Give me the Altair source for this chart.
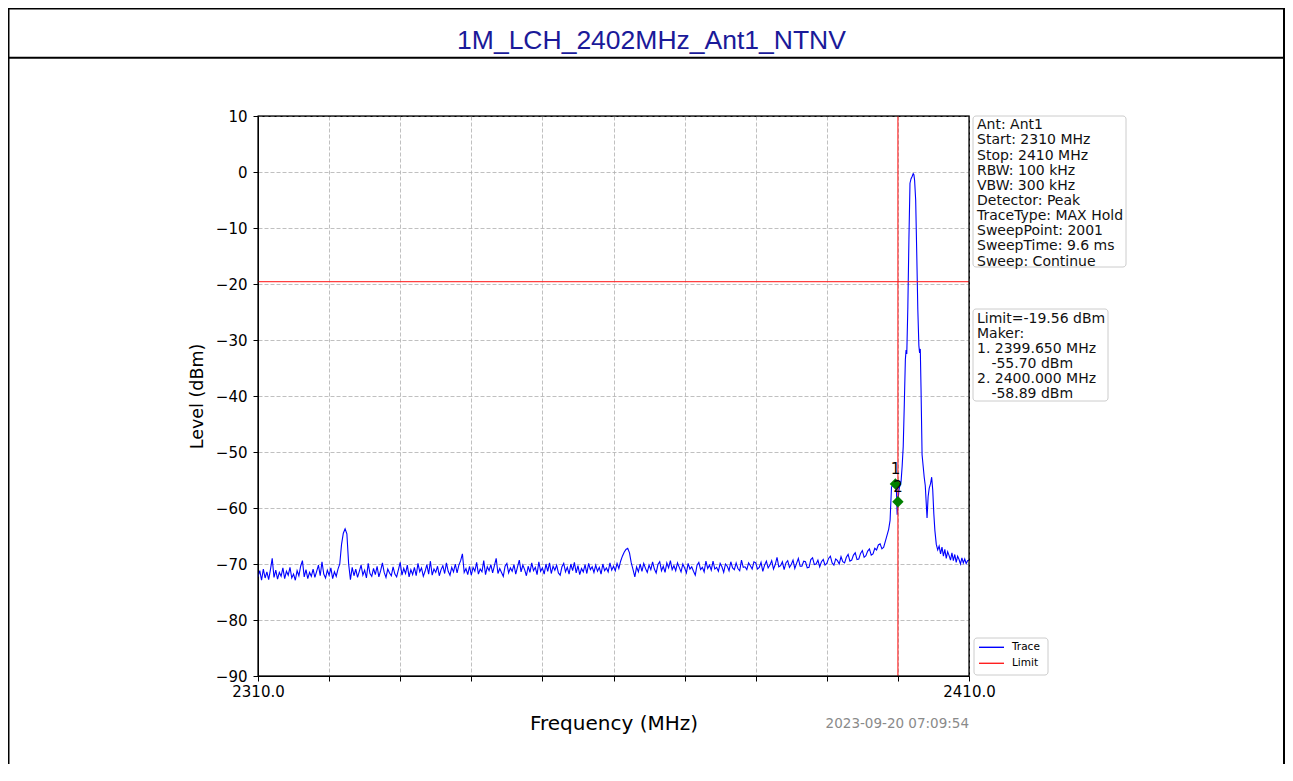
import altair as alt
import pandas as pd

# ---------------- data ----------------
# noise floor, 2310.00 .. 2397.75 MHz (0.25 MHz apart), one row = 2 MHz
noise_freq = [
    2310.0, 2310.25, 2310.5, 2310.75, 2311.0, 2311.25, 2311.5, 2311.75,
    2312.0, 2312.25, 2312.5, 2312.75, 2313.0, 2313.25, 2313.5, 2313.75,
    2314.0, 2314.25, 2314.5, 2314.75, 2315.0, 2315.25, 2315.5, 2315.75,
    2316.0, 2316.25, 2316.5, 2316.75, 2317.0, 2317.25, 2317.5, 2317.75,
    2318.0, 2318.25, 2318.5, 2318.75, 2319.0, 2319.25, 2319.5, 2319.75,
    2320.0, 2320.25, 2320.5, 2320.75, 2321.0, 2321.25, 2321.5, 2321.75,
    2322.0, 2322.25, 2322.5, 2322.75, 2323.0, 2323.25, 2323.5, 2323.75,
    2324.0, 2324.25, 2324.5, 2324.75, 2325.0, 2325.25, 2325.5, 2325.75,
    2326.0, 2326.25, 2326.5, 2326.75, 2327.0, 2327.25, 2327.5, 2327.75,
    2328.0, 2328.25, 2328.5, 2328.75, 2329.0, 2329.25, 2329.5, 2329.75,
    2330.0, 2330.25, 2330.5, 2330.75, 2331.0, 2331.25, 2331.5, 2331.75,
    2332.0, 2332.25, 2332.5, 2332.75, 2333.0, 2333.25, 2333.5, 2333.75,
    2334.0, 2334.25, 2334.5, 2334.75, 2335.0, 2335.25, 2335.5, 2335.75,
    2336.0, 2336.25, 2336.5, 2336.75, 2337.0, 2337.25, 2337.5, 2337.75,
    2338.0, 2338.25, 2338.5, 2338.75, 2339.0, 2339.25, 2339.5, 2339.75,
    2340.0, 2340.25, 2340.5, 2340.75, 2341.0, 2341.25, 2341.5, 2341.75,
    2342.0, 2342.25, 2342.5, 2342.75, 2343.0, 2343.25, 2343.5, 2343.75,
    2344.0, 2344.25, 2344.5, 2344.75, 2345.0, 2345.25, 2345.5, 2345.75,
    2346.0, 2346.25, 2346.5, 2346.75, 2347.0, 2347.25, 2347.5, 2347.75,
    2348.0, 2348.25, 2348.5, 2348.75, 2349.0, 2349.25, 2349.5, 2349.75,
    2350.0, 2350.25, 2350.5, 2350.75, 2351.0, 2351.25, 2351.5, 2351.75,
    2352.0, 2352.25, 2352.5, 2352.75, 2353.0, 2353.25, 2353.5, 2353.75,
    2354.0, 2354.25, 2354.5, 2354.75, 2355.0, 2355.25, 2355.5, 2355.75,
    2356.0, 2356.25, 2356.5, 2356.75, 2357.0, 2357.25, 2357.5, 2357.75,
    2358.0, 2358.25, 2358.5, 2358.75, 2359.0, 2359.25, 2359.5, 2359.75,
    2360.0, 2360.25, 2360.5, 2360.75, 2361.0, 2361.25, 2361.5, 2361.75,
    2362.0, 2362.25, 2362.5, 2362.75, 2363.0, 2363.25, 2363.5, 2363.75,
    2364.0, 2364.25, 2364.5, 2364.75, 2365.0, 2365.25, 2365.5, 2365.75,
    2366.0, 2366.25, 2366.5, 2366.75, 2367.0, 2367.25, 2367.5, 2367.75,
    2368.0, 2368.25, 2368.5, 2368.75, 2369.0, 2369.25, 2369.5, 2369.75,
    2370.0, 2370.25, 2370.5, 2370.75, 2371.0, 2371.25, 2371.5, 2371.75,
    2372.0, 2372.25, 2372.5, 2372.75, 2373.0, 2373.25, 2373.5, 2373.75,
    2374.0, 2374.25, 2374.5, 2374.75, 2375.0, 2375.25, 2375.5, 2375.75,
    2376.0, 2376.25, 2376.5, 2376.75, 2377.0, 2377.25, 2377.5, 2377.75,
    2378.0, 2378.25, 2378.5, 2378.75, 2379.0, 2379.25, 2379.5, 2379.75,
    2380.0, 2380.25, 2380.5, 2380.75, 2381.0, 2381.25, 2381.5, 2381.75,
    2382.0, 2382.25, 2382.5, 2382.75, 2383.0, 2383.25, 2383.5, 2383.75,
    2384.0, 2384.25, 2384.5, 2384.75, 2385.0, 2385.25, 2385.5, 2385.75,
    2386.0, 2386.25, 2386.5, 2386.75, 2387.0, 2387.25, 2387.5, 2387.75,
    2388.0, 2388.25, 2388.5, 2388.75, 2389.0, 2389.25, 2389.5, 2389.75,
    2390.0, 2390.25, 2390.5, 2390.75, 2391.0, 2391.25, 2391.5, 2391.75,
    2392.0, 2392.25, 2392.5, 2392.75, 2393.0, 2393.25, 2393.5, 2393.75,
    2394.0, 2394.25, 2394.5, 2394.75, 2395.0, 2395.25, 2395.5, 2395.75,
    2396.0, 2396.25, 2396.5, 2396.75, 2397.0, 2397.25, 2397.5, 2397.75,
]
noise_level = [
    -72.3, -71.2, -72.9, -70.9, -72.5, -71.4, -72.8, -71.0,
    -69.0, -72.4, -71.1, -72.7, -71.5, -72.2, -70.7, -72.6,
    -71.3, -72.0, -70.6, -72.5, -71.8, -72.9, -71.2, -72.1,
    -70.4, -69.4, -72.3, -71.0, -72.6, -71.5, -72.2, -70.9,
    -72.4, -71.3, -70.2, -72.1, -69.6, -71.8, -72.5, -71.1,
    -72.0, -70.7, -72.6, -71.4, -72.2, -70.9, -70.0, -66.5,
    -64.5, -63.7, -64.6, -70.0, -72.8, -70.6, -72.1, -70.9,
    -72.4, -71.3, -70.2, -72.0, -71.1, -72.5, -69.9, -71.7,
    -72.2, -70.8, -71.9, -70.4, -72.3, -71.2, -69.8, -71.5,
    -72.4, -70.9, -71.6, -72.1, -70.5, -71.8, -72.3, -71.0,
    -69.7, -72.0, -70.8, -71.7, -70.2, -72.3, -71.0, -71.9,
    -70.6, -72.1, -69.9, -71.4, -70.7, -72.2, -71.3, -70.1,
    -71.8, -69.5, -72.0, -70.9, -71.5, -70.4, -72.1, -71.0,
    -70.3, -71.7, -69.8, -71.3, -72.0, -70.6, -71.4, -70.0,
    -71.6, -70.2, -69.4, -68.2, -71.5, -70.8, -71.9, -70.4,
    -72.0, -70.6, -71.3, -69.7, -71.8, -70.9, -71.4, -69.4,
    -71.9, -70.5, -71.2, -70.1, -71.6, -70.3, -69.0, -71.7,
    -70.8, -71.5, -72.2, -70.4, -69.9, -71.6, -70.7, -71.3,
    -70.1, -71.8, -70.5, -69.3, -71.4, -70.2, -71.0, -72.1,
    -70.4, -71.5, -69.8, -71.2, -70.6, -71.9, -69.6, -71.3,
    -70.7, -71.8, -70.0, -71.3, -69.8, -71.7, -70.4, -71.1,
    -70.2, -71.6, -72.0, -70.5, -69.9, -71.4, -70.6, -71.8,
    -70.0, -71.2, -69.7, -71.6, -70.3, -71.9, -70.8, -71.4,
    -70.1, -71.7, -69.9, -71.0, -70.5, -71.5, -70.2, -71.3,
    -70.6, -71.8, -70.0, -71.2, -70.7, -71.4, -69.8, -71.1,
    -70.4, -71.2, -69.9, -70.8, -69.5, -68.6, -67.9, -67.4,
    -67.2, -68.0, -69.8, -71.0, -72.3, -70.5, -71.4, -70.0,
    -71.3, -69.9, -70.8, -71.5, -70.2, -71.0, -69.6, -70.9,
    -71.6, -70.1, -69.6, -71.2, -70.4, -71.5, -69.8, -70.7,
    -69.4, -71.0, -70.3, -71.2, -69.8, -70.6, -71.4, -70.0,
    -70.7, -71.6, -69.9, -70.9, -70.5, -71.3, -72.0, -70.2,
    -69.7, -71.0, -70.6, -71.4, -69.5, -70.8, -70.2, -71.1,
    -69.5, -70.9, -70.6, -71.3, -69.9, -70.5, -71.5, -70.0,
    -70.4, -71.2, -69.6, -70.7, -71.0, -69.8, -70.8, -71.2,
    -69.3, -70.6, -70.5, -71.0, -69.8, -70.3, -70.9, -69.6,
    -69.8, -70.9, -70.6, -69.7, -71.3, -70.2, -69.5, -70.7,
    -70.2, -69.4, -70.9, -70.1, -68.8, -70.5, -70.3, -69.6,
    -71.0, -69.8, -69.4, -70.6, -70.1, -69.3, -70.8, -69.9,
    -69.0, -70.4, -70.4, -69.5, -69.6, -70.7, -70.6, -69.2,
    -68.9, -70.1, -70.0, -69.3, -70.5, -69.6, -69.2, -70.2,
    -69.9, -69.0, -68.6, -69.8, -70.2, -69.1, -69.4, -70.0,
    -68.7, -69.6, -69.8, -68.8, -68.3, -69.5, -69.3, -68.4,
    -68.0, -69.2, -69.1, -68.1, -67.6, -68.8, -68.5, -67.7,
    -67.3, -68.4, -68.2, -67.2, -67.5, -66.6, -66.4, -67.3,
]
# carrier region 2398.0 .. 2410.0 MHz
carrier_freq = [
    2398.0, 2398.4, 2398.7, 2398.9, 2399.1, 2399.3, 2399.5, 2399.65, 2399.8, 2399.9,
    2400.0, 2400.15, 2400.3, 2400.45, 2400.6, 2400.75, 2400.9, 2401.05, 2401.15, 2401.25,
    2401.4, 2401.55, 2401.7, 2401.85, 2402.0, 2402.15, 2402.25, 2402.35, 2402.5, 2402.65,
    2402.8, 2402.95, 2403.05, 2403.15, 2403.25, 2403.4, 2403.55, 2403.7, 2403.85, 2404.0,
    2404.1, 2404.25, 2404.4, 2404.6, 2404.75, 2404.9, 2405.05, 2405.2, 2405.4, 2405.6,
    2405.8, 2406.0, 2406.2, 2406.4, 2406.6, 2406.8, 2407.0, 2407.2, 2407.4, 2407.6,
    2407.8, 2408.0, 2408.2, 2408.4, 2408.6, 2408.8, 2409.0, 2409.2, 2409.4, 2409.6,
    2409.8, 2410.0,
]
carrier_level = [
    -67.0, -65.2, -63.8, -62.2, -56.3, -55.9, -56.3, -55.7, -57.2, -61.2,
    -58.9, -56.8, -55.8, -55.2, -52.5, -49.0, -41.5, -33.5, -31.8, -32.5,
    -24.0, -12.0, -2.0, -1.2, -0.8, -0.3, -0.5, -1.5, -5.0, -14.5,
    -24.5, -31.0, -32.3, -31.6, -38.5, -50.5, -52.5, -54.5, -56.0, -59.5,
    -61.8, -58.0, -56.5, -55.6, -54.5, -56.8, -61.0, -64.0, -66.5, -67.5,
    -66.8, -68.2, -67.0, -68.6, -67.4, -69.0, -67.8, -68.5, -69.3, -68.0,
    -69.4, -68.3, -69.7, -68.6, -69.2, -70.0, -68.9, -69.8, -69.1, -69.9,
    -69.4, -69.3,
]

limit_level = -19.56
band_edge = 2400.0
marker_id = ["1", "2"]
marker_freq = [2399.65, 2400.0]
marker_level = [-55.70, -58.89]

x_ticks = [2310, 2320, 2330, 2340, 2350, 2360, 2370, 2380, 2390, 2400, 2410]
y_ticks = [-90, -80, -70, -60, -50, -40, -30, -20, -10, 0, 10]

info_lines = ["Ant: Ant1", "Start: 2310 MHz", "Stop: 2410 MHz", "RBW: 100 kHz",
              "VBW: 300 kHz", "Detector: Peak", "TraceType: MAX Hold",
              "SweepPoint: 2001", "SweepTime: 9.6 ms", "Sweep: Continue"]
limit_lines = ["Limit=-19.56 dBm", "Maker:", "1. 2399.650 MHz", "    -55.70 dBm",
               "2. 2400.000 MHz", "    -58.89 dBm"]
legend_names = ["Trace", "Limit"]
legend_colors = ["#0000ff", "#ff2020"]
page_title = "1M_LCH_2402MHz_Ant1_NTNV"
timestamp = "2023-09-20 07:09:54"

# ---------------- chart ----------------
W, H = 711, 560
PAD = {"left": 250, "top": 108, "right": 316, "bottom": 88}
RIGHT_EDGE = W + PAD["right"] - 1.0
BOTTOM_EDGE = H + PAD["bottom"]
FONT = "DejaVu Sans"

trace_df = pd.DataFrame({"freq": noise_freq + carrier_freq,
                         "level": noise_level + carrier_level})
marker_df = pd.DataFrame({"id": marker_id, "freq": marker_freq, "level": marker_level})
limit_df = pd.DataFrame({"level": [limit_level]})
edge_df = pd.DataFrame({"freq": [band_edge]})
one = pd.DataFrame({"k": [0]})

xscale = alt.Scale(domain=[2310, 2410], nice=False, zero=False)
yscale = alt.Scale(domain=[-90, 10], nice=False, zero=False)

xaxis = alt.Axis(values=x_ticks, title="Frequency (MHz)",
                 labelExpr="(datum.value == 2310 || datum.value == 2410) ? format(datum.value, '.1f') : ''",
                 grid=True, gridDash=[4, 2], gridColor="#b0b0b0", gridWidth=0.8,
                 tickSize=5, tickColor="black", domainColor="black",
                 labelFontSize=15, labelPadding=3, labelFlush=False, labelOverlap=False,
                 titleFontSize=20, titleX=355.5, titleY=47, titleBaseline="middle",
                 titleAnchor="middle", titleAlign="center")
yaxis = alt.Axis(values=y_ticks, title="Level (dBm)", format="d",
                 grid=True, gridDash=[4, 2], gridColor="#b0b0b0", gridWidth=0.8,
                 tickSize=5, tickColor="black", domainColor="black",
                 labelFontSize=15, labelPadding=6, labelOverlap=False,
                 titleFontSize=17.5, titleX=-61, titleY=280, titleAngle=270,
                 titleBaseline="middle", titleAlign="center")

X = alt.X("freq:Q", scale=xscale, axis=xaxis)
Y = alt.Y("level:Q", scale=yscale, axis=yaxis)

layers = []


def rule(x, y, x2=None, y2=None, w=2.0, color="black"):
    enc = {"x": alt.value(x), "y": alt.value(y)}
    if x2 is not None:
        enc["x2"] = alt.value(x2)
    if y2 is not None:
        enc["y2"] = alt.value(y2)
    return alt.Chart(one).mark_rule(color=color, strokeWidth=w).encode(**enc)


def text_layer(s, x, y, size, color="#111111", align="left", baseline="middle", font=FONT):
    return alt.Chart(pd.DataFrame({"t": [s]})).mark_text(
        font=font, fontSize=size, color=color, align=align, baseline=baseline
    ).encode(x=alt.value(x), y=alt.value(y), text="t:N")


# page frame (decoration)
layers += [
    rule(-249.5, -108, y2=BOTTOM_EDGE),
    rule(RIGHT_EDGE, -108, y2=BOTTOM_EDGE),
    rule(-250, -107.5, x2=RIGHT_EDGE + 1),
    rule(-250, -58.2, x2=RIGHT_EDGE + 1),
]
layers.append(text_layer(page_title, 393.5, -67.5, 26.5, color="#1a1a99",
                         align="center", baseline="alphabetic", font="Liberation Sans"))

# trace, limit line, band edge
layers.append(alt.Chart(trace_df).mark_line(color="#0000ff", strokeWidth=1.1, clip=True).encode(x=X, y=Y))
layers.append(alt.Chart(limit_df).mark_rule(color="#ff2020", strokeWidth=1.3, opacity=0.85).encode(y=Y))
layers.append(alt.Chart(edge_df).mark_rule(color="#ff2020", strokeWidth=1.3, opacity=0.85).encode(x=X))

# markers
layers.append(alt.Chart(marker_df).mark_point(shape="diamond", filled=True, color="#008000",
                                              size=130, opacity=1).encode(x=X, y=Y))
layers.append(alt.Chart(marker_df).mark_text(font=FONT, fontSize=15, color="black", dy=-15,
                                             baseline="middle").encode(x=X, y=Y, text="id:N"))

# plot frame drawn above the grid (matplotlib spines)
layers.append(alt.Chart(one).mark_rect(fill=None, stroke="black", strokeWidth=1.1).encode(
    x=alt.value(0), x2=alt.value(W), y=alt.value(0), y2=alt.value(H)))

# info box
layers.append(alt.Chart(one).mark_rect(fill="white", stroke="#cccccc", strokeWidth=1, cornerRadius=3).encode(
    x=alt.value(715), x2=alt.value(868), y=alt.value(0), y2=alt.value(151)))
for i, s in enumerate(info_lines):
    layers.append(text_layer(s, 719, 9.2 + 15.15 * i, 14))

# limit / marker box
layers.append(alt.Chart(one).mark_rect(fill="white", stroke="#cccccc", strokeWidth=1, cornerRadius=3).encode(
    x=alt.value(715), x2=alt.value(850), y=alt.value(193), y2=alt.value(285)))
for i, s in enumerate(limit_lines):
    indent = len(s) - len(s.lstrip(" "))
    layers.append(text_layer(s.lstrip(" "), 719 + 3.6 * indent, 203.4 + 14.85 * i, 14))

# legend box
layers.append(alt.Chart(one).mark_rect(fill="white", stroke="#cccccc", strokeWidth=1, cornerRadius=3).encode(
    x=alt.value(716), x2=alt.value(790), y=alt.value(522), y2=alt.value(559)))
for i, (name, col) in enumerate(zip(legend_names, legend_colors)):
    yy = 531.3 + 16 * i
    layers.append(rule(721, yy, x2=746, w=1.4, color=col))
    layers.append(text_layer(name, 754, yy, 10.5, color="black"))

# timestamp
layers.append(text_layer(timestamp, 711, 608, 13.5, color="#8a8a8a", align="right"))

chart = alt.layer(*layers).properties(
    width=W, height=H, padding=PAD, background="white",
    autosize=alt.AutoSizeParams(type="none"),
).configure_view(stroke="black", strokeWidth=1.1).configure_axis(
    labelFont=FONT, titleFont=FONT, labelColor="black", titleColor="black",
    titleFontWeight="normal",
)

chart.save("out.html", embed_options={"renderer": "svg", "actions": False})
